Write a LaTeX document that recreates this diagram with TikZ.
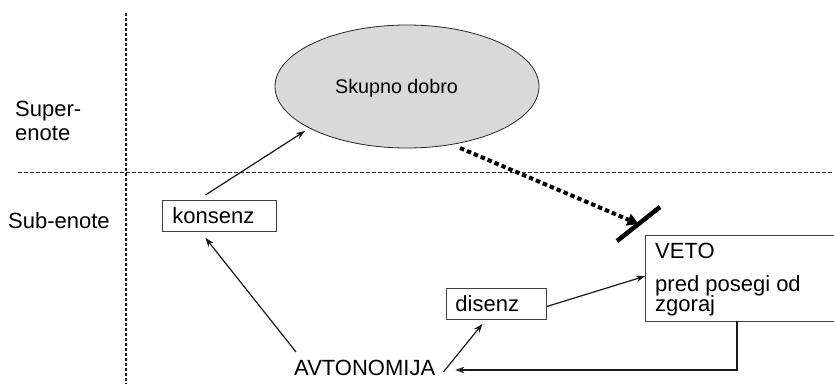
\documentclass[tikz,border=0pt]{standalone}
\usepackage{fontspec}
\setmainfont{Liberation Sans}
\usetikzlibrary{arrows.meta,calc,shapes.geometric}
\definecolor{ellfill}{HTML}{D9D9D9}
\begin{document}
\begin{tikzpicture}[x=1pt,y=-1pt,
  txt/.style={font=\fontsize{22}{24}\selectfont, inner sep=0pt},
  boxnode/.style={draw=black!75, line width=0.9pt, font=\fontsize{22}{24}\selectfont,
    anchor=north west, inner ysep=0pt, inner xsep=10pt, minimum height=31pt,
    text width=#1, align=left},
  boxline/.style={draw=black!75, line width=0.9pt},
  arr/.style={draw=black!90, line width=1.2pt, -{Stealth[length=9pt,width=6.5pt]}},
  divline/.style={draw=black!85, line width=1pt, dash pattern=on 4pt off 2pt},
  vdivline/.style={draw=black!90, line width=1.4pt, dash pattern=on 3pt off 2pt},
  dotarr/.style={draw=black, line width=4pt, dash pattern=on 4.5pt off 3pt,
    -{Triangle[length=11pt,width=12pt]}},
]
\useasboundingbox (0,0) rectangle (834,384);
\clip (0,0) rectangle (834,384);

% dividers
\coordinate (vtop) at (126,13);
\coordinate (vbot) at (126,384);
\coordinate (hl) at (18,172);
\coordinate (hr) at (834,172);
\draw[vdivline] (vtop) -- (vbot);
\draw[divline] (hl) -- (hr);

% side labels
\node[txt, anchor=base west] (sup1) at (15,116) {Super-};
\node[txt, anchor=base west] (sup2) at (15,140) {enote};
\node[txt, anchor=base west] (sub) at (8,228.5) {Sub-enote};

% ellipse
\node[ellipse, draw=black!85, line width=0.8pt, fill=ellfill, minimum width=264pt,
  minimum height=123pt, inner sep=0pt] (sd) at (407,86.5) {};
\node[txt, font=\fontsize{19.7}{21}\selectfont, anchor=base west] (sdtext) at (335,93) {Skupno dobro};

% boxes
\node[boxnode=94pt] (kons) at (162,200) {konsenz};
\node[boxnode=82pt, inner xsep=9pt] (dis) at (446,288) {disenz};
\node[anchor=north west, minimum width=230pt, minimum height=86pt, inner sep=0pt] (veto) at (645,235) {};
\draw[boxline] (veto.north east) -- (veto.north west) -- (veto.south west) -- (veto.south east);
\node[txt, anchor=base west] (vetol1) at (655,258.5) {VETO};
\node[txt, anchor=base west] (vetol2) at (655,291) {pred posegi od};
\node[txt, anchor=base west] (vetol3) at (655,311) {zgoraj};

\node[txt, anchor=base west] (avt) at (294,375) {AVTONOMIJA};

% connectors
\draw[arr] ([xshift=-14pt,yshift=5pt]kons.north) -- ($(sd.center)+(-102,44.5)$);
\draw[arr] ([xshift=2pt,yshift=7.5pt]avt.north west) -- ([xshift=-14pt,yshift=-6pt]kons.south);
\draw[arr] ([xshift=8pt,yshift=3pt]avt.base east) -- ([xshift=-14pt,yshift=-4pt]dis.south);
\draw[arr] ([yshift=-2.5pt]dis.east) -- ([yshift=2pt]veto.west);
\draw[arr] ([xshift=92pt]veto.south west) |- ([xshift=20pt,yshift=5pt]avt.base east);

% veto block
\coordinate (vb1) at (617,241);
\coordinate (vb2) at (660,207);
\coordinate (vbm) at ($(vb1)!0.5!(vb2)$);
\draw[dotarr] ($(sd.center)+(53,61.5)$) -- (vbm);
\draw[black, line width=4.5pt] (vb1) -- (vb2);
\end{tikzpicture}
\end{document}
